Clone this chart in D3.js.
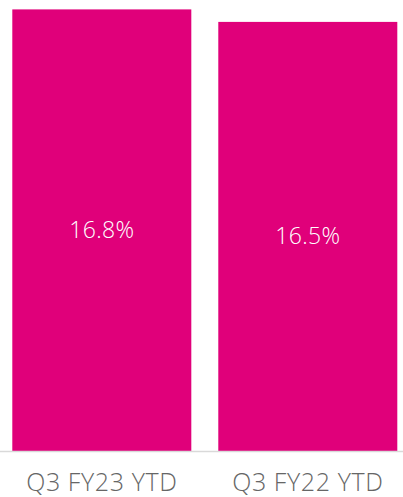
<!DOCTYPE html>
<html>
<head>
<meta charset="utf-8">
<script src="https://cdn.jsdelivr.net/npm/d3@7"></script>
<style>
	body { margin: 0; background: #fff; }
	svg { display: block; }
</style>
</head>
<body>
<svg id="chart"></svg>
<script>
const categories = ["Q3 FY23 YTD", "Q3 FY22 YTD"];
const values = [16.8, 16.5];
const valueLabels = ["16.8%", "16.5%"];

const data = categories.map((c, i) => ({ category: c, value: values[i], label: valueLabels[i] }));

// Set up dimensions
const width = 403;
const height = 497;
const baseline = 451;

const svg = d3.select("#chart")
	.attr("width", width)
	.attr("height", height);

// Scales (axis does not start at zero)
const x = d3.scaleBand()
	.domain(categories)
	.range([12.3, 397.3])
	.paddingInner(0.131)
	.paddingOuter(0);

const y = d3.scaleLinear()
	.domain([6.2, 16.8])
	.range([baseline, 9.4]);

// Bars
svg.selectAll("rect.bar")
	.data(data)
	.join("rect")
	.attr("class", "bar")
	.attr("x", (d) => x(d.category))
	.attr("y", (d) => y(d.value))
	.attr("width", x.bandwidth())
	.attr("height", (d) => baseline - y(d.value))
	.attr("fill", "#e0007a");

// Value labels
svg.selectAll("text.value")
	.data(data)
	.join("text")
	.attr("class", "value")
	.attr("x", (d) => x(d.category) + x.bandwidth() / 2)
	.attr("y", (d) => (y(d.value) + baseline) / 2)
	.attr("dy", "0.35em")
	.attr("text-anchor", "middle")
	.style("font-family", "'Open Sans', sans-serif")
	.style("font-weight", 300)
	.style("font-size", "23px")
	.style("letter-spacing", "0.3px")
	.style("fill", "white")
	.text((d) => d.label);

// Baseline
svg.append("line")
	.attr("x1", 0)
	.attr("x2", width)
	.attr("y1", baseline + 0.5)
	.attr("y2", baseline + 0.5)
	.attr("stroke", "#d9d9d9")
	.attr("stroke-width", 1.5);

// Category labels
svg.selectAll("text.cat")
	.data(data)
	.join("text")
	.attr("class", "cat")
	.attr("x", (d) => x(d.category) + x.bandwidth() / 2)
	.attr("y", 491)
	.attr("text-anchor", "middle")
	.style("font-family", "'Open Sans', sans-serif")
	.style("font-weight", 300)
	.style("font-size", "25px")
	.style("letter-spacing", "0.6px")
	.style("fill", "#666")
	.text((d) => d.category);
</script>
</body>
</html>
